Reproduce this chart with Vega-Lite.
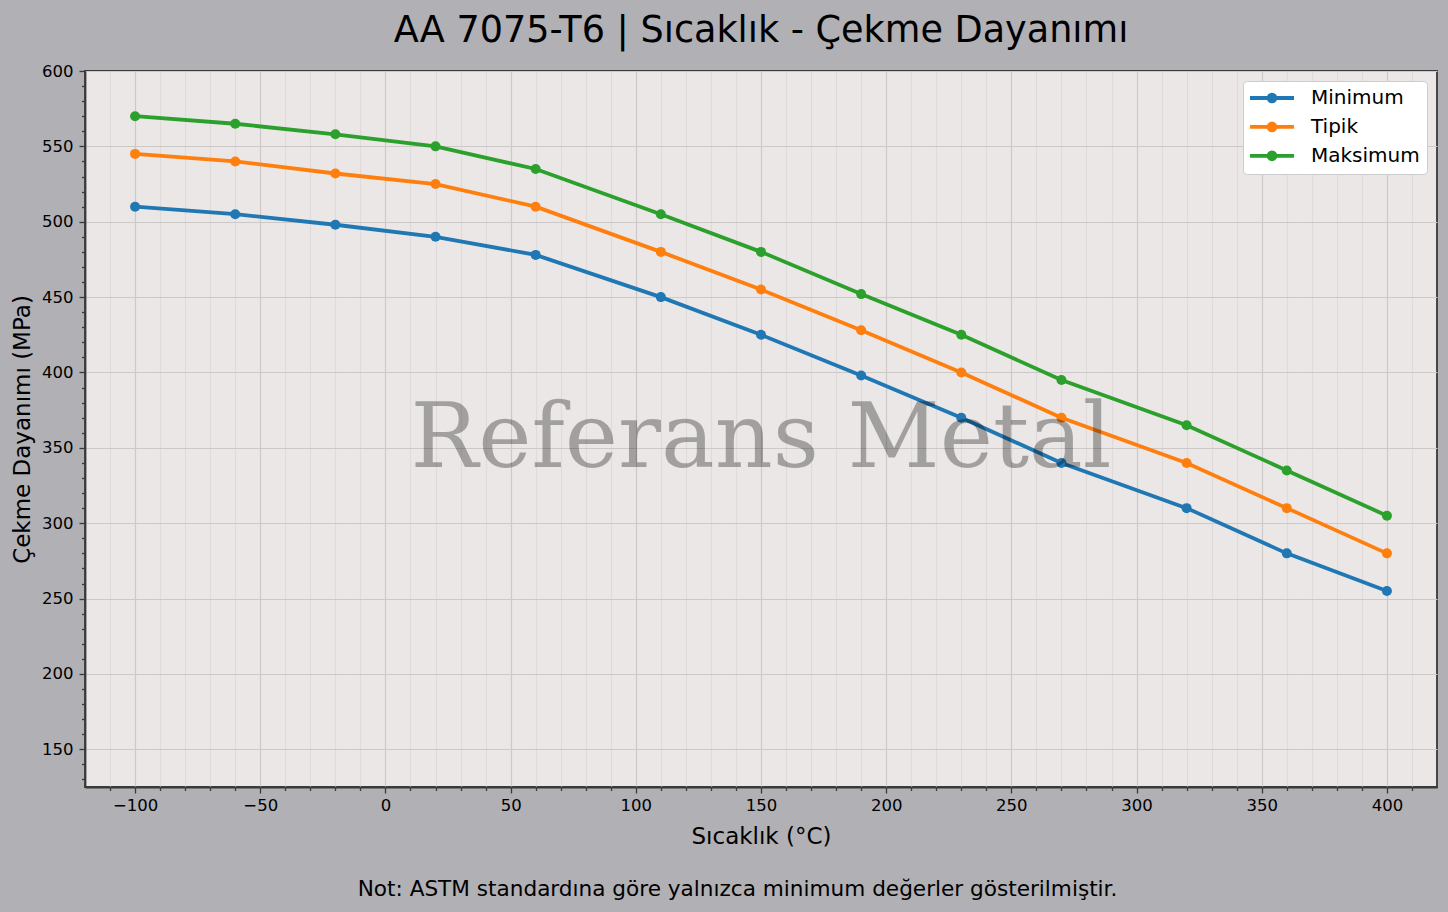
{
  "$schema": "https://vega.github.io/schema/vega-lite/v6.json",
  "autosize": {"type": "none"},
  "width": 1352,
  "height": 716,
  "padding": {"left": 85, "top": 71, "right": 11, "bottom": 125},
  "background": "#b1b0b5",
  "title": {
    "text": "AA 7075-T6 | Sıcaklık - Çekme Dayanımı",
    "anchor": "middle",
    "font": "DejaVu Sans",
    "fontSize": 36.6,
    "fontWeight": "normal",
    "color": "#000000",
    "offset": 13
  },
  "layer": [
    {
      "data": {
        "values": [
          {"temp": -100, "seri": "Minimum", "mpa": 510},
          {"temp": -60, "seri": "Minimum", "mpa": 505},
          {"temp": -20, "seri": "Minimum", "mpa": 498},
          {"temp": 20, "seri": "Minimum", "mpa": 490},
          {"temp": 60, "seri": "Minimum", "mpa": 478},
          {"temp": 110, "seri": "Minimum", "mpa": 450},
          {"temp": 150, "seri": "Minimum", "mpa": 425},
          {"temp": 190, "seri": "Minimum", "mpa": 398},
          {"temp": 230, "seri": "Minimum", "mpa": 370},
          {"temp": 270, "seri": "Minimum", "mpa": 340},
          {"temp": 320, "seri": "Minimum", "mpa": 310},
          {"temp": 360, "seri": "Minimum", "mpa": 280},
          {"temp": 400, "seri": "Minimum", "mpa": 255},
          {"temp": -100, "seri": "Tipik", "mpa": 545},
          {"temp": -60, "seri": "Tipik", "mpa": 540},
          {"temp": -20, "seri": "Tipik", "mpa": 532},
          {"temp": 20, "seri": "Tipik", "mpa": 525},
          {"temp": 60, "seri": "Tipik", "mpa": 510},
          {"temp": 110, "seri": "Tipik", "mpa": 480},
          {"temp": 150, "seri": "Tipik", "mpa": 455},
          {"temp": 190, "seri": "Tipik", "mpa": 428},
          {"temp": 230, "seri": "Tipik", "mpa": 400},
          {"temp": 270, "seri": "Tipik", "mpa": 370},
          {"temp": 320, "seri": "Tipik", "mpa": 340},
          {"temp": 360, "seri": "Tipik", "mpa": 310},
          {"temp": 400, "seri": "Tipik", "mpa": 280},
          {"temp": -100, "seri": "Maksimum", "mpa": 570},
          {"temp": -60, "seri": "Maksimum", "mpa": 565},
          {"temp": -20, "seri": "Maksimum", "mpa": 558},
          {"temp": 20, "seri": "Maksimum", "mpa": 550},
          {"temp": 60, "seri": "Maksimum", "mpa": 535},
          {"temp": 110, "seri": "Maksimum", "mpa": 505},
          {"temp": 150, "seri": "Maksimum", "mpa": 480},
          {"temp": 190, "seri": "Maksimum", "mpa": 452},
          {"temp": 230, "seri": "Maksimum", "mpa": 425},
          {"temp": 270, "seri": "Maksimum", "mpa": 395},
          {"temp": 320, "seri": "Maksimum", "mpa": 365},
          {"temp": 360, "seri": "Maksimum", "mpa": 335},
          {"temp": 400, "seri": "Maksimum", "mpa": 305}
        ]
      },
      "mark": {
        "type": "line",
        "strokeWidth": 3.8,
        "point": {"filled": true, "size": 100, "opacity": 1}
      },
      "encoding": {
        "x": {
          "field": "temp",
          "type": "quantitative",
          "scale": {"domain": [-120, 420], "nice": false, "zero": false},
          "axis": {
            "title": "Sıcaklık (°C)",
            "values": [-110, -100, -90, -80, -70, -60, -50, -40, -30, -20, -10, 0, 10, 20, 30, 40, 50, 60, 70, 80, 90, 100, 110, 120, 130, 140, 150, 160, 170, 180, 190, 200, 210, 220, 230, 240, 250, 260, 270, 280, 290, 300, 310, 320, 330, 340, 350, 360, 370, 380, 390, 400, 410],
            "labelExpr": "datum.value % 50 === 0 ? replace(format(datum.value, 'd'), '-', '\u2212') : ''",
            "labelFontSize": 16.5,
            "labelFlush": false,
            "labelOverlap": false,
            "labelPadding": 4,
            "titlePadding": 12,
            "tickSize": {"condition": {"test": "datum.value % 50 === 0", "value": 6}, "value": 3.5},
            "gridColor": {"condition": {"test": "datum.value % 50 === 0", "value": "#cdc9c8"}, "value": "#dfdbda"}
          }
        },
        "y": {
          "field": "mpa",
          "type": "quantitative",
          "scale": {"domain": [125, 600], "nice": false, "zero": false},
          "axis": {
            "orient": "left",
            "title": "Çekme Dayanımı (MPa)",
            "values": [150, 200, 250, 300, 350, 400, 450, 500, 550, 600],
            "format": "d",
            "labelFontSize": 16.5,
            "labelOverlap": false,
            "labelFlush": false,
            "labelPadding": 6,
            "titlePadding": 7,
            "tickSize": 6,
            "gridColor": "#cdc9c8"
          }
        },
        "color": {
          "field": "seri",
          "type": "nominal",
          "sort": ["Minimum", "Tipik", "Maksimum"],
          "scale": {"domain": ["Minimum", "Tipik", "Maksimum"], "range": ["#1f77b4", "#ff7f0e", "#2ca02c"]},
          "legend": {
            "title": null,
            "orient": "top-right",
            "offset": 10,
            "padding": 7,
            "fillColor": "#ffffff",
            "strokeColor": "#cccccc",
            "cornerRadius": 4,
            "labelFont": "DejaVu Sans",
            "labelFontSize": 20,
            "labelColor": "#000000",
            "labelOffset": 29,
            "symbolOffset": 12,
            "symbolType": "M-3.14,0L3.14,0M0.49,0A0.49,0.49,0,1,1,-0.49,0A0.49,0.49,0,1,1,0.49,0Z",
            "symbolSize": 196,
            "symbolStrokeWidth": 3.8,
            "rowPadding": 4.9,
            "encode": {
              "symbols": {
                "update": {
                  "fill": {"scale": "color", "field": "value"},
                  "stroke": {"scale": "color", "field": "value"},
                  "opacity": {"value": 1}
                }
              }
            }
          }
        }
      }
    },
    {
      "data": {"values": [{"label": "Referans Metal"}]},
      "mark": {
        "type": "text",
        "font": "DejaVu Serif",
        "fontSize": 90,
        "fill": "#000000",
        "fillOpacity": 0.31,
        "align": "center",
        "baseline": "alphabetic"
      },
      "encoding": {
        "text": {"field": "label"},
        "x": {
          "datum": 150,
          "type": "quantitative",
          "axis": {
            "orient": "bottom",
            "title": "Not: ASTM standardına göre yalnızca minimum değerler gösterilmiştir.",
            "titleFontSize": 21.6,
            "titleX": 652,
            "titleY": 108,
            "titleBaseline": "alphabetic",
            "titleAnchor": "middle",
            "titleAlign": "center",
            "labels": false,
            "ticks": false,
            "domain": false,
            "grid": false
          }
        },
        "y": {
          "datum": 337,
          "type": "quantitative",
          "axis": {
            "orient": "left",
            "title": null,
            "values": [130, 140, 160, 170, 180, 190, 210, 220, 230, 240, 260, 270, 280, 290, 310, 320, 330, 340, 360, 370, 380, 390, 410, 420, 430, 440, 460, 470, 480, 490, 510, 520, 530, 540, 560, 570, 580, 590],
            "labels": false,
            "domain": false,
            "tickSize": 3.5,
            "gridColor": "#dfdbda"
          }
        }
      }
    }
  ],
  "resolve": {"axis": {"x": "independent", "y": "independent"}},
  "config": {
    "view": {"fill": "#ebe7e6", "stroke": "#3a3a3a", "strokeWidth": 1.8},
    "axis": {
      "domainColor": "#3a3a3a",
      "domainWidth": 1.8,
      "tickColor": "#3a3a3a",
      "tickWidth": 1.3,
      "labelFont": "DejaVu Sans",
      "labelColor": "#000000",
      "titleFont": "DejaVu Sans",
      "titleFontSize": 23,
      "titleFontWeight": "normal",
      "titleColor": "#000000",
      "grid": true,
      "gridWidth": 1.2
    }
  }
}
